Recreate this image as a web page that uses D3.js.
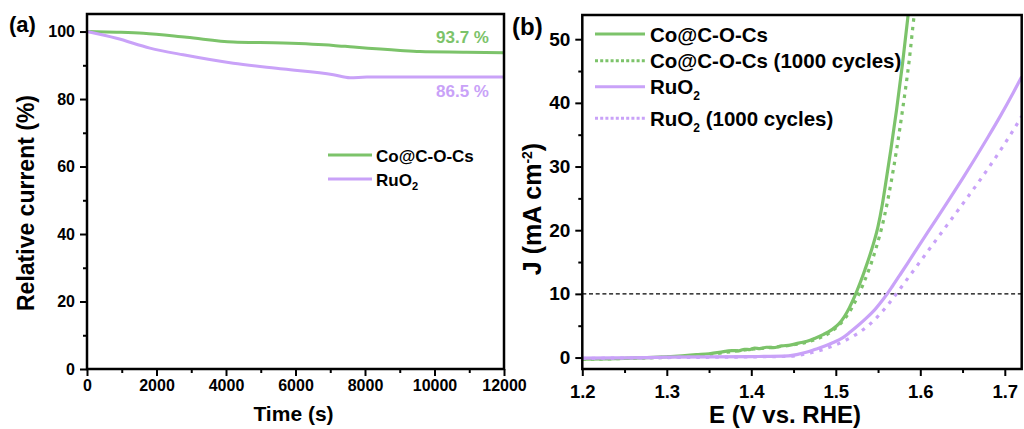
<!DOCTYPE html>
<html>
<head>
<meta charset="utf-8">
<script src="https://cdn.jsdelivr.net/npm/d3@7/dist/d3.min.js"></script>
<style>
  html, body { margin: 0; padding: 0; background: #fff; }
  svg text { font-family: "Liberation Sans", Arial, Helvetica, sans-serif; font-weight: bold; fill: #000; }
</style>
</head>
<body>
<svg id="fig" width="1024" height="429"></svg>
<script>
// ---- Panel (a): chronoamperometric stability ----
const timeCo = [0, 850, 1620, 2870, 4210, 5650, 7090, 7670, 9010, 9580, 10920, 12000];
const currentCo = [100, 99.8, 99.5, 98.3, 96.9, 96.6, 95.9, 95.4, 94.4, 94.1, 93.9, 93.7];
const timeRu = [0, 850, 1810, 2770, 4210, 5650, 7090, 7570, 8050, 9010, 12000];
const currentRu = [100, 98.0, 95.1, 93.1, 90.6, 88.9, 87.2, 86.3, 86.5, 86.5, 86.5];
const timeTicks = [0, 2000, 4000, 6000, 8000, 10000, 12000];
const currentTicks = [0, 20, 40, 60, 80, 100];
const namesA = ["Co@C-O-Cs", "RuO"];

// ---- Panel (b): polarization curves before / after 1000 cycles ----
const coFresh = [[1.200,-0.25],[1.230,-0.2],[1.260,-0.1],[1.290,0.05],[1.318,0.27],[1.335,0.45],[1.350,0.6],
  [1.362,0.8],[1.377,1.1],[1.385,1.05],[1.392,1.3],[1.398,1.25],[1.404,1.5],[1.410,1.4],[1.418,1.62],
  [1.426,1.55],[1.436,1.84],[1.446,1.95],[1.456,2.26],[1.466,2.55],[1.475,3.0],[1.485,3.6],[1.495,4.35],
  [1.503,5.2],[1.510,6.4],[1.516,7.8],[1.5223,9.6],[1.5287,11.7],[1.5345,13.8],[1.543,17.2],[1.550,20.6],
  [1.555,24.0],[1.560,28.2],[1.5653,32.8],[1.5719,38.9],[1.579,46.2],[1.5849,53.0],[1.587,55.5]];
const coCycled = [[1.200,-0.3],[1.250,-0.15],[1.300,0.05],[1.350,0.5],[1.375,0.9],[1.400,1.3],[1.425,1.6],
  [1.450,2.0],[1.475,2.8],[1.495,4.1],[1.510,6.0],[1.519,7.8],[1.526,9.6],[1.533,11.7],[1.547,16.9],
  [1.5574,22.1],[1.5653,27.4],[1.5719,32.6],[1.579,38.9],[1.5869,46.7],[1.5928,53.8],[1.595,56]];
const ruFresh = [[1.200,-0.1],[1.250,-0.05],[1.300,0.05],[1.350,0.1],[1.400,0.15],[1.444,0.27],[1.455,0.5],
  [1.465,0.82],[1.475,1.25],[1.487,1.8],[1.497,2.35],[1.507,3.0],[1.517,4.0],[1.527,5.1],[1.537,6.3],
  [1.547,7.65],[1.557,9.3],[1.567,11.2],[1.577,13.2],[1.590,15.85],[1.605,18.9],[1.620,21.95],[1.635,25.0],
  [1.650,28.1],[1.665,31.3],[1.680,34.6],[1.695,38.0],[1.710,41.6],[1.720,44.1]];
const ruCycled = [[1.200,-0.15],[1.300,0.0],[1.400,0.1],[1.445,0.2],[1.460,0.45],[1.470,0.72],[1.480,1.07],
  [1.490,1.5],[1.500,2.0],[1.510,2.6],[1.520,3.3],[1.530,4.15],[1.540,5.2],[1.550,6.5],[1.560,8.0],
  [1.570,9.7],[1.580,11.5],[1.595,14.2],[1.610,16.9],[1.625,19.6],[1.640,22.3],[1.655,25.0],[1.670,27.75],
  [1.685,30.6],[1.700,33.6],[1.710,35.7],[1.720,37.9]];
const potentialTicks = [1.2, 1.3, 1.4, 1.5, 1.6, 1.7];
const densityTicks = [0, 10, 20, 30, 40, 50];
const referenceDensity = 10;
const namesB = ["Co@C-O-Cs", "Co@C-O-Cs (1000 cycles)", "RuO", "RuO"];

const GREEN = "#7cc36a";
const PURPLE = "#c9a2f8";

const svg = d3.select("#fig");

// shared tick drawing: major outward ticks with labels + unlabeled minor ticks
function drawAxis(g, axisFn, scale, majors, minors, opts) {
  const major = axisFn(scale).tickValues(majors).tickSize(opts.major).tickPadding(opts.pad)
    .tickFormat(opts.fmt);
  const minor = axisFn(scale).tickValues(minors).tickSize(opts.minor).tickFormat("");
  const gm = g.append("g").call(minor);
  const gM = g.append("g").call(major);
  [gm, gM].forEach(s => {
    s.select(".domain").remove();
    s.selectAll(".tick line").attr("stroke", "#000").attr("stroke-width", 2);
  });
  gM.selectAll(".tick text").style("font-size", opts.size + "px")
    .attr("font-family", null).attr("fill", "#000");
  return gM;
}

/* ================= Panel (a) ================= */
const xA = d3.scaleLinear().domain([0, 12000]).range([87, 504]);
const yA = d3.scaleLinear().domain([0, 105.2]).range([369, 14]);

const gA = svg.append("g");
const lineA = d3.line().x(d => xA(d[0])).y(d => yA(d[1])).curve(d3.curveMonotoneX);
gA.append("path").datum(d3.zip(timeCo, currentCo)).attr("d", lineA)
  .attr("fill", "none").attr("stroke", GREEN).attr("stroke-width", 3);
gA.append("path").datum(d3.zip(timeRu, currentRu)).attr("d", lineA)
  .attr("fill", "none").attr("stroke", PURPLE).attr("stroke-width", 3);

drawAxis(gA.append("g").attr("transform", `translate(0,${yA.range()[0]})`), d3.axisBottom, xA,
  timeTicks, d3.range(1000, 12000, 2000), { major: 7, minor: 4, pad: 4, size: 16, fmt: d3.format("d") });
drawAxis(gA.append("g").attr("transform", `translate(${xA.range()[0]},0)`), d3.axisLeft, yA,
  currentTicks, d3.range(10, 101, 20), { major: 7, minor: 4, pad: 5, size: 16, fmt: d3.format("d") });

gA.append("rect").attr("x", xA.range()[0]).attr("y", yA.range()[1])
  .attr("width", xA.range()[1] - xA.range()[0]).attr("height", yA.range()[0] - yA.range()[1])
  .attr("fill", "none").attr("stroke", "#000").attr("stroke-width", 2.5);

// retention labels at the end of each trace
gA.append("text").attr("x", 489).attr("y", yA(currentCo[currentCo.length - 1]) - 10)
  .attr("text-anchor", "end").style("font-size", "17px").style("fill", GREEN)
  .text(currentCo[currentCo.length - 1].toFixed(1) + " %");
gA.append("text").attr("x", 489).attr("y", yA(currentRu[currentRu.length - 1]) + 20)
  .attr("text-anchor", "end").style("font-size", "17px").style("fill", PURPLE)
  .text(currentRu[currentRu.length - 1].toFixed(1) + " %");

// legend (a)
[GREEN, PURPLE].forEach((c, i) => {
  const y = 155 + i * 24;
  gA.append("line").attr("x1", 328).attr("x2", 372).attr("y1", y).attr("y2", y)
    .attr("stroke", c).attr("stroke-width", 3);
  const t = gA.append("text").attr("x", 376).attr("y", y + 6.5).style("font-size", "17px").text(namesA[i]);
  if (i === 1) t.append("tspan").attr("dy", 4).style("font-size", "11px").text("2");
});

gA.append("text").attr("x", 293.5).attr("y", 421).attr("text-anchor", "middle")
  .style("font-size", "21px").text("Time (s)");
gA.append("text").attr("transform", "translate(34,203) rotate(-90)").attr("text-anchor", "middle")
  .style("font-size", "23px").text("Relative current (%)");
gA.append("text").attr("x", 9).attr("y", 32).style("font-size", "22px").text("(a)");

/* ================= Panel (b) ================= */
const xB = d3.scaleLinear().domain([1.2, 1.72]).range([582.3, 1021.7]);
const yB = d3.scaleLinear().domain([-1.8, 53.8]).range([369, 15]);

const gB = svg.append("g");
gB.append("clipPath").attr("id", "clipB").append("rect")
  .attr("x", xB.range()[0]).attr("y", yB.range()[1])
  .attr("width", xB.range()[1] - xB.range()[0]).attr("height", yB.range()[0] - yB.range()[1]);

const plotB = gB.append("g").attr("clip-path", "url(#clipB)");
plotB.append("line").attr("x1", xB.range()[0]).attr("x2", xB.range()[1])
  .attr("y1", yB(referenceDensity)).attr("y2", yB(referenceDensity))
  .attr("stroke", "#000").attr("stroke-width", 1.3).attr("stroke-dasharray", "4,2.7");

const lineB = d3.line().x(d => xB(d[0])).y(d => yB(d[1])).curve(d3.curveMonotoneX);
const seriesB = [
  { data: coFresh, color: GREEN, dash: null },
  { data: coCycled, color: GREEN, dash: "3.5,5" },
  { data: ruFresh, color: PURPLE, dash: null },
  { data: ruCycled, color: PURPLE, dash: "3.5,6" }
];
seriesB.forEach(s => {
  plotB.append("path").datum(s.data).attr("d", lineB).attr("fill", "none")
    .attr("stroke", s.color).attr("stroke-width", 3.2)
    .attr("stroke-dasharray", s.dash);
});

drawAxis(gB.append("g").attr("transform", `translate(0,${yB.range()[0]})`), d3.axisBottom, xB,
  potentialTicks, d3.range(1.25, 1.7, 0.1), { major: 7, minor: 4, pad: 9, size: 18.5, fmt: d3.format(".1f") });
drawAxis(gB.append("g").attr("transform", `translate(${xB.range()[0]},0)`), d3.axisLeft, yB,
  densityTicks, d3.range(5, 50, 10), { major: 7, minor: 4, pad: 5, size: 19, fmt: d3.format("d") });

gB.append("rect").attr("x", xB.range()[0]).attr("y", yB.range()[1])
  .attr("width", xB.range()[1] - xB.range()[0]).attr("height", yB.range()[0] - yB.range()[1])
  .attr("fill", "none").attr("stroke", "#000").attr("stroke-width", 2.5);

// legend (b)
const legendRowsB = [34, 60.7, 86.7, 118.3];
seriesB.forEach((s, i) => {
  const y = legendRowsB[i];
  gB.append("line").attr("x1", 595).attr("x2", 645).attr("y1", y).attr("y2", y)
    .attr("stroke", s.color).attr("stroke-width", 3)
    .attr("stroke-dasharray", s.dash ? "3,2.2" : null);
  const t = gB.append("text").attr("x", 650).attr("y", y + 7.5).style("font-size", "20.5px").text(namesB[i]);
  if (i >= 2) {
    t.append("tspan").attr("dy", 6).style("font-size", "12px").text("2");
    if (i === 3) t.append("tspan").attr("dy", -6).text(" (1000 cycles)");
  }
});

gB.append("text").attr("x", 785).attr("y", 423).attr("text-anchor", "middle")
  .style("font-size", "24px").text("E (V vs. RHE)");
const jTitle = gB.append("text").attr("transform", "translate(541,209) rotate(-90)")
  .attr("text-anchor", "middle").style("font-size", "25px");
jTitle.append("tspan").text("J (mA cm");
jTitle.append("tspan").attr("dy", -9).style("font-size", "14px").text("-2");
jTitle.append("tspan").attr("dy", 9).text(")");
gB.append("text").attr("x", 512).attr("y", 35).style("font-size", "24px").text("(b)");
</script>
</body>
</html>
